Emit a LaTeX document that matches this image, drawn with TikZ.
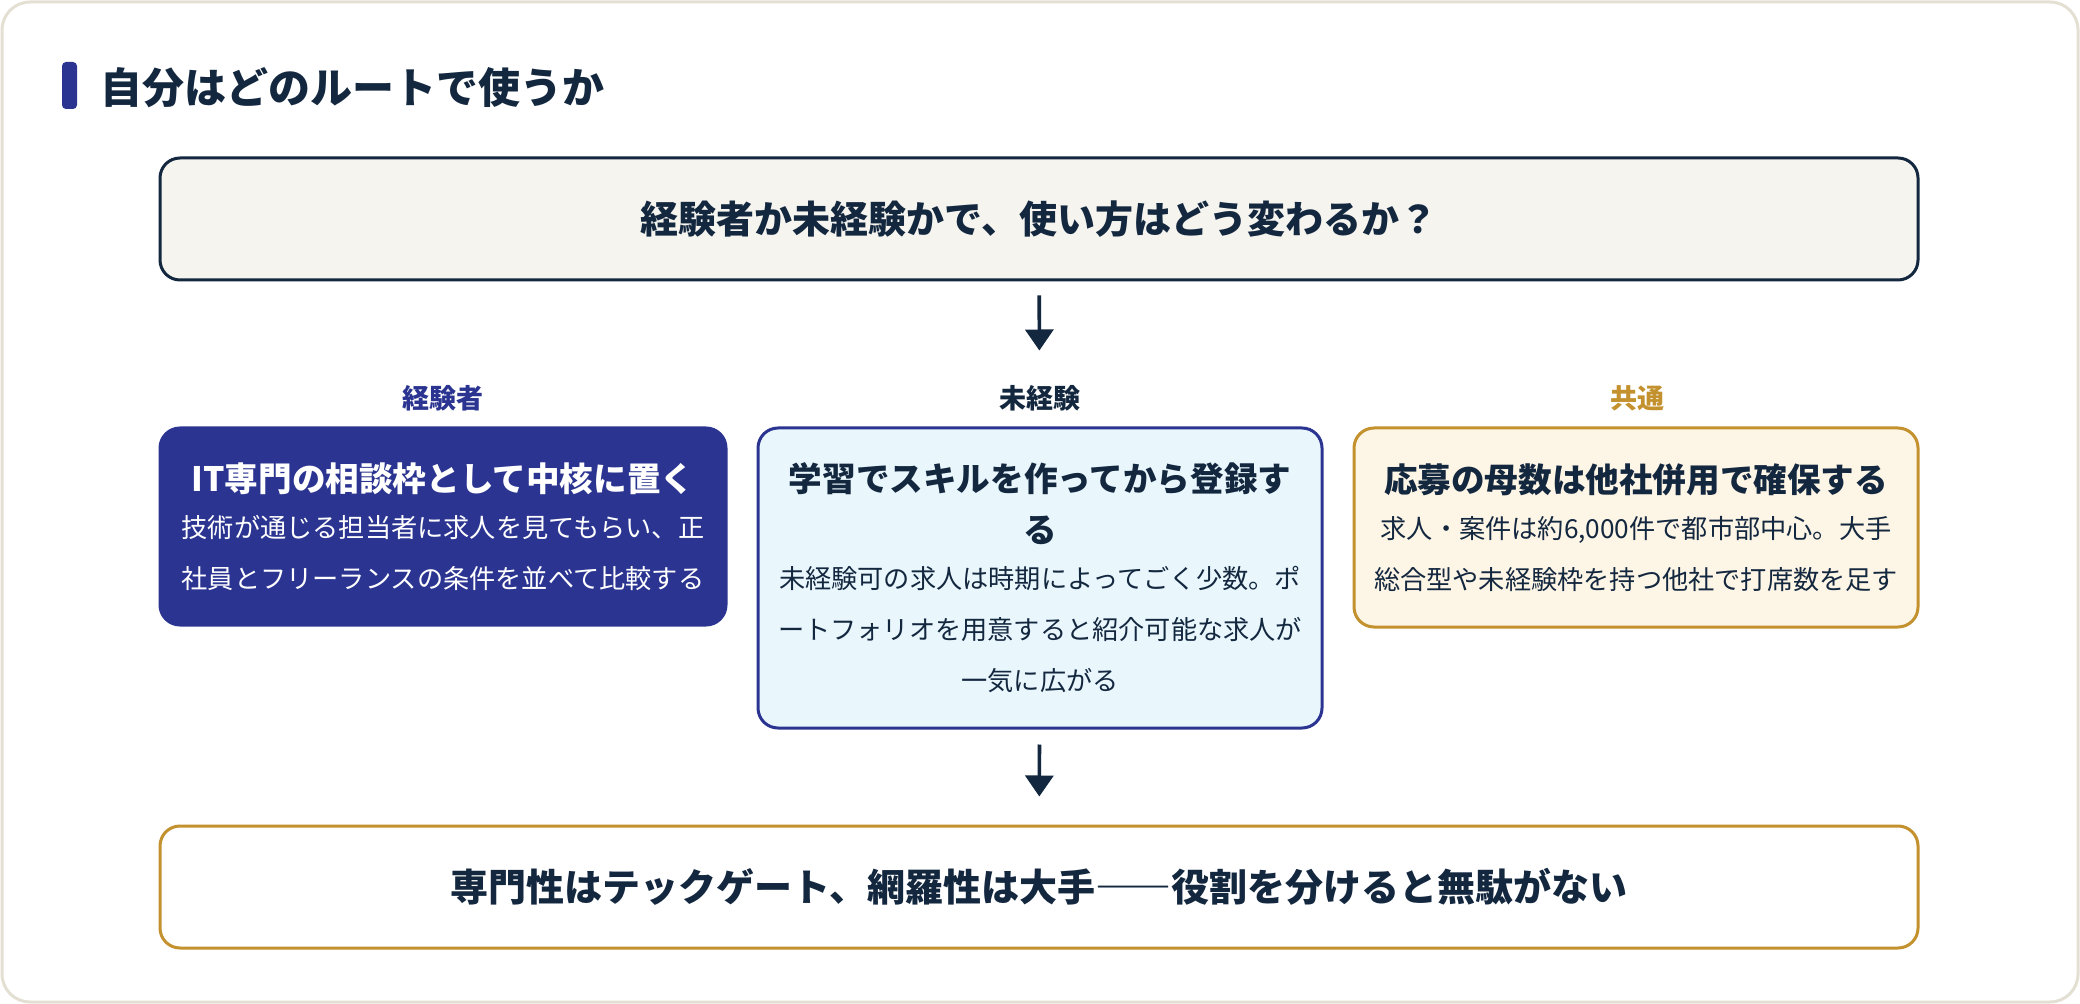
\documentclass[tikz,border=0pt]{standalone}
\usepackage{fontspec}
\setmainfont{Noto Sans CJK JP}
\usepackage{tikz}
\usetikzlibrary{arrows.meta,positioning}
\usepackage{xcolor}
\definecolor{ink}{HTML}{13273F}
\definecolor{expblue}{HTML}{2B3591}
\definecolor{gold}{HTML}{C4912F}
\definecolor{qfill}{HTML}{F5F4EF}
\definecolor{newfill}{HTML}{E9F7FD}
\definecolor{comfill}{HTML}{FDF5E6}
\definecolor{frameline}{HTML}{E3E0D3}

\begin{document}
\begin{tikzpicture}[
    x=0.5pt,y=-0.5pt,>={Triangle[length=10.5pt,width=14pt]},
    every node/.style={text=ink},
    card/.style={rounded corners=10pt,line width=1.5pt,align=center,inner sep=4pt,
      text width=274pt,font=\fontsize{13.1}{25.5}\selectfont},
    banner/.style={rounded corners=10pt,line width=1.5pt,minimum width=879pt,minimum height=61pt,
      font=\fontsize{19}{24}\selectfont\bfseries},
    colhead/.style={font=\fontsize{13.5}{16}\selectfont\bfseries},
    flow/.style={->,line width=1.8pt,draw=ink}
  ]
  \newcommand{\boxtitle}{\fontsize{16.8}{25.5}\selectfont\bfseries}
  \useasboundingbox (0,0) rectangle (2080,1004);
  \draw[rounded corners=14pt,draw=frameline,fill=white,line width=1.5pt] (2,2) rectangle (2078,1002);
  % heading
  \fill[expblue,rounded corners=2pt] (62,62) rectangle (77,109);
  \node[anchor=west,inner sep=0pt,font=\fontsize{21}{24}\selectfont\bfseries] (heading) at (100,88) {自分はどのルートで使うか};
  \node[banner,draw=ink,fill=qfill] (question) at (1039,219) {経験者か未経験かで、使い方はどう変わるか？};
  \node[colhead,text=expblue] (lblexp) at (443,398) {経験者};
  \node[colhead] (lblnew) at (1040,398) {未経験};
  \node[colhead,text=gold] (lblcom) at (1637,398) {共通};
  \node[card,fill=expblue,draw=expblue,text=white,minimum width=283pt,minimum height=98.5pt] (exp) at (443,526.5)
    {{\boxtitle IT専門の相談枠として中核に置く}\\[-2.5pt]
     技術が通じる担当者に求人を見てもらい、正\\社員とフリーランスの条件を並べて比較する};
  \node[card,fill=newfill,draw=expblue,minimum width=281pt,minimum height=150pt] (new) at (1040,578)
    {{\boxtitle 学習でスキルを作ってから登録す\\る}\\[-2.5pt]
     未経験可の求人は時期によってごく少数。ポ\\ートフォリオを用意すると紹介可能な求人が\\一気に広がる};
  \node[card,fill=comfill,draw=gold,minimum width=282pt,minimum height=99.5pt] (com) at (1636,527.5)
    {{\boxtitle 応募の母数は他社併用で確保する}\\[-2.5pt]
     求人・案件は約6,000件で都市部中心。大手\\総合型や未経験枠を持つ他社で打席数を足す};
  \node[banner,draw=gold,fill=white] (summary) at (1039,887) {専門性はテックゲート、網羅性は大手――役割を分けると無駄がない};
  \draw[flow,shorten <=7pt,shorten >=38pt] (question) -- (new);
  \draw[flow,shorten <=7.5pt,shorten >=14pt] (new) -- (summary);
\end{tikzpicture}
\end{document}
